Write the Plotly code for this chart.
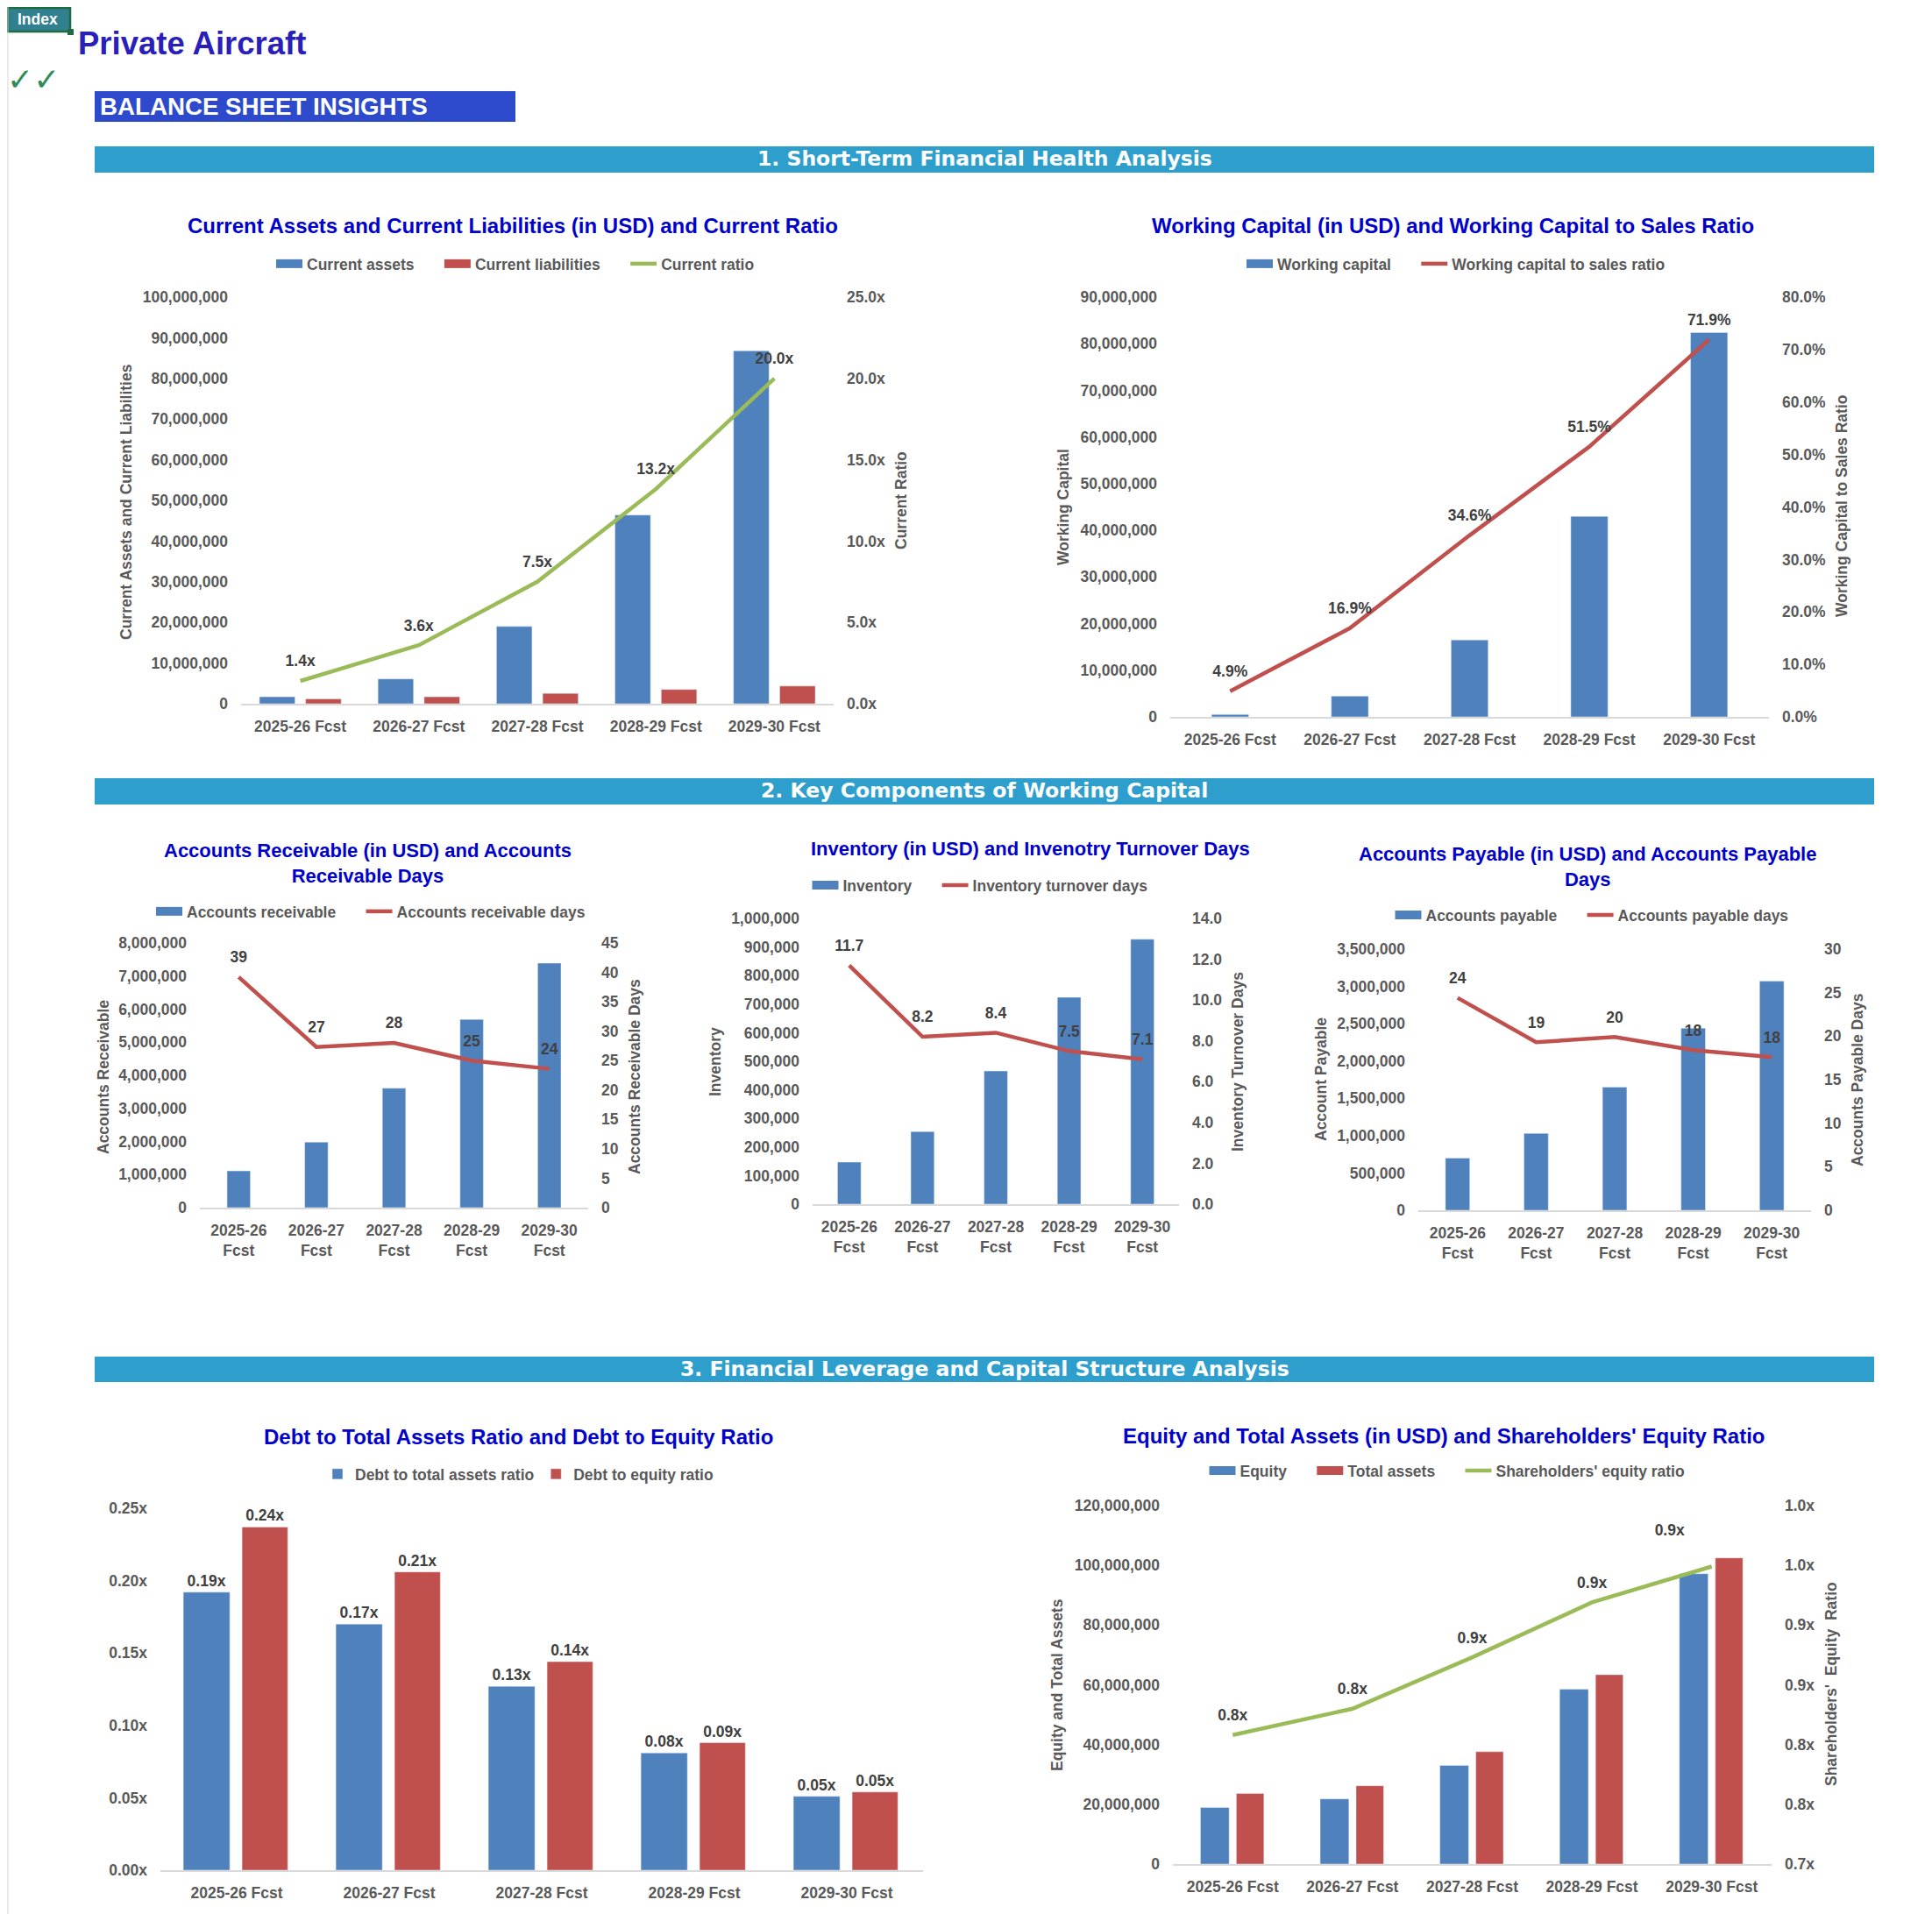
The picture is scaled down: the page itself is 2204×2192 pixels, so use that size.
import plotly.graph_objects as go

W, H = 2204, 2192          # browser window
OFF = 8                     # default body margin of the page
FW, FH = W - 2 * OFF, H - 2 * OFF

# ---------------- data ----------------
CATEGORIES = ["2025-26 Fcst", "2026-27 Fcst", "2027-28 Fcst", "2028-29 Fcst", "2029-30 Fcst"]

CURRENT_ASSETS = [1.7e6, 6.1e6, 19.0e6, 46.4e6, 86.8e6]
CURRENT_LIABILITIES = [1.2e6, 1.7e6, 2.55e6, 3.5e6, 4.35e6]
CURRENT_RATIO = [1.4, 3.6, 7.5, 13.2, 20.0]

WORKING_CAPITAL = [0.5e6, 4.45e6, 16.5e6, 43.0e6, 82.4e6]
WC_TO_SALES = [0.049, 0.169, 0.346, 0.515, 0.719]

ACCOUNTS_RECEIVABLE = [1.11e6, 1.98e6, 3.61e6, 5.69e6, 7.39e6]
AR_DAYS = [39.2, 27.3, 28.0, 25.0, 23.6]

INVENTORY = [147e3, 254e3, 466e3, 724e3, 927e3]
INVENTORY_DAYS = [11.7, 8.2, 8.4, 7.5, 7.1]

ACCOUNTS_PAYABLE = [0.70e6, 1.03e6, 1.65e6, 2.44e6, 3.07e6]
AP_DAYS = [24.4, 19.3, 19.9, 18.4, 17.6]

DEBT_TO_ASSETS = [0.192, 0.170, 0.127, 0.081, 0.051]
DEBT_TO_EQUITY = [0.237, 0.206, 0.144, 0.088, 0.054]

EQUITY = [18.9e6, 21.8e6, 33.0e6, 58.5e6, 97.2e6]
TOTAL_ASSETS = [23.6e6, 26.2e6, 37.6e6, 63.4e6, 102.5e6]
EQUITY_RATIO = [0.808, 0.830, 0.873, 0.919, 0.949]

EQ_RATIO_TICKVALS = [0.70, 0.75, 0.80, 0.85, 0.90, 0.95, 1.00]
EQ_RATIO_TICKTEXT = ["0.7x", "0.8x", "0.8x", "0.9x", "0.9x", "1.0x", "1.0x"]

CATEGORIES_WRAPPED = [c.replace(" ", "<br>") for c in CATEGORIES]

# ---------------- style ----------------
BLUE = "#4F81BD"
RED = "#C0504D"
GREEN = "#9BBB59"
TICK = "#595959"
LABEL = "#404040"
TITLE = "#0000CC"
FONT = "Liberation Sans, Arial, sans-serif"
FS = 17.5
PAD = "\u00a0" * 5          # extra spacing between legend entries


def tfont(size=FS, color=TICK, family=FONT):
    return dict(family=family, size=size, color=color, weight="bold")


def px_x(v):
    return (v - OFF) / FW


def px_y(v):
    return 1 - (v - OFF) / FH


fig = go.Figure()
layout = dict(width=FW, height=FH, margin=dict(l=0, r=0, t=0, b=0, autoexpand=False),
              paper_bgcolor="white", plot_bgcolor="rgba(0,0,0,0)",
              barmode="overlay", showlegend=True)
annotations = []
shapes = []


def x_cfg(xd, yref):
    return dict(domain=[px_x(xd[0]), px_x(xd[1])], anchor=yref, type="category",
                showgrid=False, zeroline=False, showline=True, linecolor="#D9D9D9",
                linewidth=2, ticks="", tickfont=tfont(), ticklabelstandoff=9,
                fixedrange=True)


def yl_cfg(yd, xref, rng, dtick, fmt, suffix=""):
    return dict(domain=[px_y(yd[1]), px_y(yd[0])], anchor=xref, range=rng, dtick=dtick,
                tick0=0, tickformat=fmt, ticksuffix=suffix, showgrid=False, zeroline=False,
                showline=False, ticks="", tickfont=tfont(), ticklabelstandoff=14,
                fixedrange=True)


def yr_cfg(overlay, xref, rng, dtick, fmt, suffix=""):
    return dict(overlaying=overlay, side="right", anchor=xref, range=rng, dtick=dtick,
                tick0=0, tickformat=fmt, ticksuffix=suffix, showgrid=False, zeroline=False,
                showline=False, ticks="", tickfont=tfont(), ticklabelstandoff=14,
                fixedrange=True)


def legend_cfg(cx, cy):
    return dict(orientation="h", x=px_x(cx), y=px_y(cy), xanchor="center", yanchor="middle",
                font=tfont(FS), bgcolor="rgba(0,0,0,0)", itemwidth=30, traceorder="normal")


def add_text(x, y, text, size, color, xanchor="center", angle=0, family=FONT):
    annotations.append(dict(x=px_x(x), y=px_y(y), xref="paper", yref="paper", text=text,
                            showarrow=False, xanchor=xanchor, yanchor="middle",
                            textangle=angle, font=tfont(size, color, family)))


def add_rect(x0, y0, x1, y1, fill, line_color=None, line_width=0):
    shapes.append(dict(type="rect", xref="paper", yref="paper", x0=px_x(x0), x1=px_x(x1),
                       y0=px_y(y1), y1=px_y(y0), fillcolor=fill,
                       line=dict(color=line_color or fill, width=line_width), layer="below"))


def add_bar_key(name, color, legend):
    # legend entry drawn as a wide bar swatch (Excel style)
    fig.add_trace(go.Scatter(x=[None], y=[None], mode="lines", name=name + PAD,
                             line=dict(color=color, width=10), legend=legend,
                             hoverinfo="skip"))


def add_line_trace(x, y, xa, ya, name, color, legend, fmt, positions="top center",
                   label_sizes=18):
    fig.add_trace(go.Scatter(x=x, y=y, xaxis=xa, yaxis=ya, name=name, mode="lines",
                             line=dict(color=color, width=4.5), legend=legend,
                             hoverinfo="skip"))
    fig.add_trace(go.Scatter(x=x, y=y, xaxis=xa, yaxis=ya, mode="markers+text",
                             marker=dict(size=label_sizes, color="rgba(0,0,0,0)",
                                         line=dict(width=0, color="rgba(0,0,0,0)")),
                             texttemplate=fmt, textposition=positions,
                             textfont=tfont(FS, LABEL), showlegend=False,
                             hoverinfo="skip", cliponaxis=False))


# ---------------- header decorations ----------------
shapes.append(dict(type="line", xref="paper", yref="paper", x0=px_x(9), x1=px_x(9),
                   y0=0, y1=1, line=dict(color="#D6D6D6", width=1)))
add_rect(9, 9, 80, 36, "#31808F", "#1E6B43", 2.5)
add_rect(77, 33, 84, 40, "#1E6B43")
add_text(43, 22, "Index", 17.5, "white")
add_text(87, 50, "Private Aircraft", 36.5, "#2A1FB8", xanchor="left")
add_text(38, 90, "✓✓", 36, "#2E8B57", family="DejaVu Sans")
add_rect(108, 104, 588, 139, "#2D4ACD")
add_text(112, 122, "BALANCE SHEET INSIGHTS", 27.7, "white", xanchor="left")

SECTION = "#2E9FCD"
for (y0, y1, txt) in [(167, 197, "1. Short-Term Financial Health Analysis"),
                      (888, 918, "2. Key Components of Working Capital"),
                      (1548, 1577, "3. Financial Leverage and Capital Structure Analysis")]:
    add_rect(108, y0, 2138, y1, SECTION)
    add_text(1123, (y0 + y1) / 2 - 1, txt, 23.5, "white", family="DejaVu Sans")

# ---------------- Chart 1 ----------------
fig.add_trace(go.Bar(x=CATEGORIES, y=CURRENT_ASSETS, xaxis="x", yaxis="y", name="Current assets",
                     marker_color=BLUE, width=0.30, offset=-0.345, showlegend=False,
                     hoverinfo="skip"))
fig.add_trace(go.Bar(x=CATEGORIES, y=CURRENT_LIABILITIES, xaxis="x", yaxis="y",
                     name="Current liabilities", marker_color=RED, width=0.30, offset=0.045,
                     showlegend=False, hoverinfo="skip"))
add_bar_key("Current assets", BLUE, "legend")
add_bar_key("Current liabilities", RED, "legend")
add_line_trace(CATEGORIES, CURRENT_RATIO, "x", "y2", "Current ratio", GREEN, "legend", "%{y:.1f}x")
layout["xaxis"] = x_cfg((275, 951), "y")
layout["yaxis"] = yl_cfg((339, 803), "x", [0, 100e6], 10e6, ",.0f")
layout["yaxis2"] = yr_cfg("y", "x", [0, 25], 5, ".1f", "x")
layout["legend"] = legend_cfg(588, 301)
add_text(585, 258, "Current Assets and Current Liabilities (in USD) and Current Ratio", 24, TITLE)
add_text(144, 573, "Current Assets and Current Liabilities", 17.5, TICK, angle=-90)
add_text(1028, 571, "Current Ratio", 17.5, TICK, angle=-90)

# ---------------- Chart 2 ----------------
fig.add_trace(go.Bar(x=CATEGORIES, y=WORKING_CAPITAL, xaxis="x2", yaxis="y3", name="Working capital",
                     marker_color=BLUE, width=0.31, showlegend=False, hoverinfo="skip"))
add_bar_key("Working capital", BLUE, "legend2")
add_line_trace(CATEGORIES, WC_TO_SALES, "x2", "y4", "Working capital to sales ratio", RED,
               "legend2", "%{y:.1%}")
layout["xaxis2"] = x_cfg((1335, 2018), "y3")
layout["yaxis3"] = yl_cfg((339, 818), "x2", [0, 90e6], 10e6, ",.0f")
layout["yaxis4"] = yr_cfg("y3", "x2", [0, 0.8], 0.1, ".1%")
layout["legend2"] = legend_cfg(1661, 301)
add_text(1657, 258, "Working Capital (in USD) and Working Capital to Sales Ratio", 24, TITLE)
add_text(1213, 579, "Working Capital", 17.5, TICK, angle=-90)
add_text(2101, 578, "Working Capital to Sales Ratio", 17.5, TICK, angle=-90)

# ---------------- Chart 3 ----------------
fig.add_trace(go.Bar(x=CATEGORIES_WRAPPED, y=ACCOUNTS_RECEIVABLE, xaxis="x3", yaxis="y5",
                     name="Accounts receivable", marker_color=BLUE, width=0.30,
                     showlegend=False, hoverinfo="skip"))
add_bar_key("Accounts receivable", BLUE, "legend3")
add_line_trace(CATEGORIES_WRAPPED, AR_DAYS, "x3", "y6", "Accounts receivable days", RED,
               "legend3", "%{y:.0f}")
layout["xaxis3"] = x_cfg((228, 671), "y5")
layout["yaxis5"] = yl_cfg((1076, 1378), "x3", [0, 8e6], 1e6, ",.0f")
layout["yaxis6"] = yr_cfg("y5", "x3", [0, 45], 5, ".0f")
layout["legend3"] = legend_cfg(423, 1040)
add_text(419, 985, "Accounts Receivable (in USD) and Accounts<br>Receivable Days", 22, TITLE)
add_text(118, 1229, "Accounts Receivable", 17.5, TICK, angle=-90)
add_text(724, 1229, "Accounts Receivable Days", 17.5, TICK, angle=-90)

# ---------------- Chart 4 ----------------
fig.add_trace(go.Bar(x=CATEGORIES_WRAPPED, y=INVENTORY, xaxis="x4", yaxis="y7", name="Inventory",
                     marker_color=BLUE, width=0.32, showlegend=False, hoverinfo="skip"))
add_bar_key("Inventory", BLUE, "legend4")
add_line_trace(CATEGORIES_WRAPPED, INVENTORY_DAYS, "x4", "y8", "Inventory turnover days", RED,
               "legend4", "%{y:.1f}")
layout["xaxis4"] = x_cfg((927, 1345), "y7")
layout["yaxis7"] = yl_cfg((1048, 1374), "x4", [0, 1e6], 1e5, ",.0f")
layout["yaxis8"] = yr_cfg("y7", "x4", [0, 14], 2, ".1f")
layout["legend4"] = legend_cfg(1118, 1010)
add_text(1175, 968, "Inventory (in USD) and Invenotry Turnover Days", 22, TITLE)
add_text(816, 1212, "Inventory", 17.5, TICK, angle=-90)
add_text(1412, 1212, "Inventory Turnover Days", 17.5, TICK, angle=-90)

# ---------------- Chart 5 ----------------
fig.add_trace(go.Bar(x=CATEGORIES_WRAPPED, y=ACCOUNTS_PAYABLE, xaxis="x5", yaxis="y9",
                     name="Accounts payable", marker_color=BLUE, width=0.31,
                     showlegend=False, hoverinfo="skip"))
add_bar_key("Accounts payable", BLUE, "legend5")
add_line_trace(CATEGORIES_WRAPPED, AP_DAYS, "x5", "y10", "Accounts payable days", RED,
               "legend5", "%{y:.0f}")
layout["xaxis5"] = x_cfg((1618, 2066), "y9")
layout["yaxis9"] = yl_cfg((1083, 1381), "x5", [0, 3.5e6], 5e5, ",.0f")
layout["yaxis10"] = yr_cfg("y9", "x5", [0, 30], 5, ".0f")
layout["legend5"] = legend_cfg(1816, 1044)
add_text(1811, 989, "Accounts Payable (in USD) and Accounts Payable<br>Days", 22, TITLE)
add_text(1507, 1232, "Account Payable", 17.5, TICK, angle=-90)
add_text(2119, 1232, "Accounts Payable Days", 17.5, TICK, angle=-90)

# ---------------- Chart 6 ----------------
fig.add_trace(go.Bar(x=CATEGORIES, y=DEBT_TO_ASSETS, xaxis="x6", yaxis="y11",
                     name="Debt to total assets ratio", marker_color=BLUE, width=0.305,
                     offset=-0.35, texttemplate="%{y:.2f}x", textposition="outside",
                     textfont=tfont(FS, LABEL), constraintext="none", cliponaxis=False,
                     legend="legend6", hoverinfo="skip"))
fig.add_trace(go.Bar(x=CATEGORIES, y=DEBT_TO_EQUITY, xaxis="x6", yaxis="y11",
                     name="Debt to equity ratio", marker_color=RED, width=0.30, offset=0.035,
                     texttemplate="%{y:.2f}x", textposition="outside",
                     textfont=tfont(FS, LABEL), constraintext="none", cliponaxis=False,
                     legend="legend6", hoverinfo="skip"))
layout["xaxis6"] = x_cfg((183, 1053), "y11")
layout["yaxis11"] = yl_cfg((1721, 2134), "x6", [0, 0.25], 0.05, ".2f", "x")
layout["legend6"] = legend_cfg(592, 1682)
add_text(591, 1639, "Debt to Total Assets Ratio and Debt to Equity Ratio", 24, TITLE)

# ---------------- Chart 7 ----------------
fig.add_trace(go.Bar(x=CATEGORIES, y=EQUITY, xaxis="x7", yaxis="y12", name="Equity",
                     marker_color=BLUE, width=0.24, offset=-0.27, showlegend=False,
                     hoverinfo="skip"))
fig.add_trace(go.Bar(x=CATEGORIES, y=TOTAL_ASSETS, xaxis="x7", yaxis="y12", name="Total assets",
                     marker_color=RED, width=0.23, offset=0.03, showlegend=False,
                     hoverinfo="skip"))
add_bar_key("Equity", BLUE, "legend7")
add_bar_key("Total assets", RED, "legend7")
add_line_trace(CATEGORIES, EQUITY_RATIO, "x7", "y13", "Shareholders' equity ratio", GREEN,
               "legend7", "%{y:.1f}x",
               positions=["top center", "top center", "top center", "top center", "top left"],
               label_sizes=[18, 18, 18, 18, 48])
layout["xaxis7"] = x_cfg((1338, 2021), "y12")
layout["yaxis12"] = yl_cfg((1718, 2127), "x7", [0, 120e6], 20e6, ",.0f")
y13 = yr_cfg("y12", "x7", [0.7, 1.0], 0.05, ".1f", "")
y13.update(tickmode="array", tickvals=EQ_RATIO_TICKVALS, ticktext=EQ_RATIO_TICKTEXT)
layout["yaxis13"] = y13
layout["legend7"] = legend_cfg(1651, 1678)
add_text(1647, 1638, "Equity and Total Assets (in USD) and Shareholders' Equity Ratio", 24, TITLE)
add_text(1206, 1923, "Equity and Total Assets", 17.5, TICK, angle=-90)
add_text(2089, 1922, "Shareholders'  Equity  Ratio", 17.5, TICK, angle=-90)

layout["annotations"] = annotations
layout["shapes"] = shapes
fig.update_layout(**layout)

fig.write_html("out.html", config={"displayModeBar": False, "staticPlot": True})
